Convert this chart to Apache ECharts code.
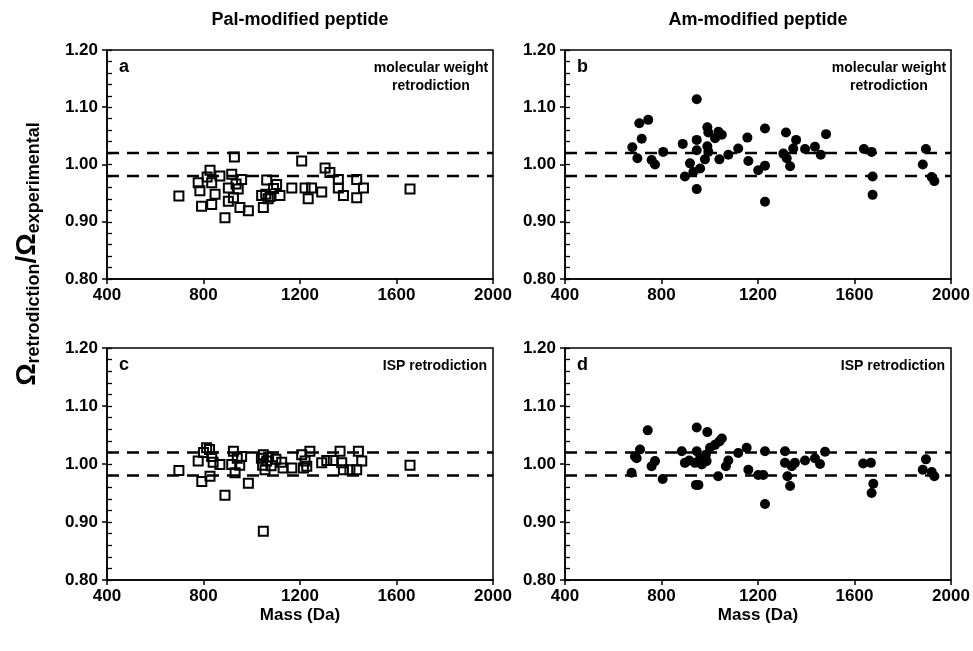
<!DOCTYPE html>
<html>
<head>
<meta charset="utf-8">
<script src="https://cdn.jsdelivr.net/npm/echarts@6/dist/echarts.min.js"></script>
<style>html,body{margin:0;padding:0;background:#fff}#c{width:973px;height:651px}</style>
</head>
<body>
<div id="c"></div>
<script>
// ---------- data ----------
const xTicks = [400, 800, 1200, 1600, 2000];
const yTicks = [0.80, 0.90, 1.00, 1.10, 1.20];
const thresholdHigh = 1.02;
const thresholdLow = 0.98;

// (a) Pal-modified, molecular weight retrodiction
const palMwMass  = [698,778,785,792,827,834,848,834,868,889,917,903,924,958,944,903,951,986,928,1062,1041,1048,1076,1103,1117,1166,1207,1221,1234,1248,1290,1304,1324,1359,1359,1380,1435,1463,1435,1656,815,1058,1068,935,1090];
const palMwRatio = [0.945,0.968,0.954,0.927,0.990,0.968,0.948,0.930,0.980,0.907,0.983,0.959,0.942,0.974,0.957,0.936,0.925,0.919,1.013,0.973,0.946,0.925,0.944,0.965,0.946,0.959,1.006,0.959,0.940,0.959,0.952,0.994,0.986,0.974,0.959,0.946,0.974,0.959,0.942,0.957,0.978,0.948,0.940,0.966,0.958];

// (b) Am-modified, molecular weight retrodiction
const amMwMass  = [679,700,708,745,718,759,773,807,888,897,918,932,946,946,946,960,946,990,994,990,994,980,1022,1036,1050,1040,1077,1118,1156,1160,1201,1229,1229,1229,1316,1305,1319,1333,1346,1358,1395,1436,1460,1482,1639,1671,1675,1675,1896,1883,1920,1931];
const amMwRatio = [1.030,1.011,1.072,1.078,1.045,1.008,1.000,1.022,1.036,0.979,1.002,0.987,1.114,1.043,1.025,0.993,0.957,1.065,1.056,1.032,1.022,1.009,1.046,1.057,1.052,1.009,1.017,1.028,1.047,1.006,0.990,1.063,0.998,0.935,1.056,1.019,1.011,0.997,1.028,1.043,1.027,1.031,1.017,1.053,1.027,1.022,0.979,0.947,1.027,1.000,0.978,0.971];

// (c) Pal-modified, ISP retrodiction
const palIspMass  = [698,778,793,800,813,825,834,840,827,868,889,924,917,931,940,958,950,986,1040,1048,1045,1055,1062,1070,1080,1048,1100,1124,1130,1166,1207,1214,1221,1241,1228,1290,1311,1338,1366,1373,1380,1407,1442,1456,1435,1656];
const palIspRatio = [0.989,1.005,0.970,1.020,1.028,1.025,1.013,1.003,0.979,0.999,0.946,1.022,0.999,0.985,1.010,1.013,0.998,0.967,1.010,1.016,0.998,0.990,1.005,1.012,0.997,0.884,1.008,1.003,0.993,0.993,1.016,0.993,1.005,1.022,0.996,1.002,1.006,1.006,1.022,1.002,0.990,0.990,1.022,1.005,0.990,0.998];

// (d) Am-modified, ISP retrodiction
const amIspMass  = [676,690,711,697,743,759,773,805,884,897,915,946,946,939,953,943,960,967,990,984,987,1001,1022,1040,1050,1035,1067,1077,1118,1153,1160,1201,1222,1229,1229,1312,1312,1322,1333,1340,1353,1395,1436,1457,1478,1636,1668,1678,1671,1896,1883,1920,1931];
const amIspRatio = [0.985,1.013,1.025,1.010,1.058,0.996,1.005,0.974,1.022,1.002,1.006,1.063,1.022,1.002,0.964,0.964,1.010,0.999,1.055,1.016,1.005,1.028,1.033,1.039,1.044,0.979,0.996,1.006,1.019,1.028,0.990,0.981,0.981,1.022,0.931,1.022,1.002,0.979,0.962,0.996,1.002,1.006,1.010,1.000,1.021,1.001,1.002,0.966,0.950,1.008,0.990,0.986,0.979];

const columnTitles = ['Pal-modified peptide', 'Am-modified peptide'];
const panelLetters = ['a', 'b', 'c', 'd'];
const panelNotes = ['molecular weight\nretrodiction', 'molecular weight\nretrodiction', 'ISP retrodiction', 'ISP retrodiction'];
const xTitle = 'Mass (Da)';

// ---------- layout ----------
const FONT = 'Liberation Sans, Arial, sans-serif';
const grids = [
  {left: 107, top: 50, width: 386, height: 229},
  {left: 565, top: 50, width: 386, height: 229},
  {left: 107, top: 348, width: 386, height: 232},
  {left: 565, top: 348, width: 386, height: 232}
];
const panels = [
  {mass: palMwMass, ratio: palMwRatio, open: true},
  {mass: amMwMass, ratio: amMwRatio, open: false},
  {mass: palIspMass, ratio: palIspRatio, open: true},
  {mass: amIspMass, ratio: amIspRatio, open: false}
];

const option = {
  animation: false,
  backgroundColor: '#fff',
  grid: grids.map(g => Object.assign({show: true, borderColor: '#000', borderWidth: 1.5, backgroundColor: 'transparent'}, g)),
  xAxis: [],
  yAxis: [],
  series: [],
  graphic: []
};

grids.forEach((g, i) => {
  option.xAxis.push({
    gridIndex: i, type: 'value', min: xTicks[0], max: xTicks[xTicks.length - 1],
    interval: xTicks[1] - xTicks[0],
    name: i >= 2 ? xTitle : '', nameLocation: 'middle', nameGap: 27,
    nameTextStyle: {fontFamily: FONT, fontWeight: 'bold', fontSize: 17, color: '#000'},
    axisLine: {show: true, lineStyle: {color: '#000', width: 1.5}},
    axisTick: {show: true, length: 5, lineStyle: {color: '#000', width: 1.5}},
    axisLabel: {fontFamily: FONT, fontWeight: 'bold', fontSize: 17, color: '#000', margin: 8,
      formatter: v => String(v)},
    splitLine: {show: false}
  });
  option.yAxis.push({
    gridIndex: i, type: 'value', min: yTicks[0], max: yTicks[yTicks.length - 1],
    interval: 0.1,
    axisLine: {show: true, lineStyle: {color: '#000', width: 1.5}},
    axisTick: {show: true, length: 5, lineStyle: {color: '#000', width: 1.5}},
    axisLabel: {fontFamily: FONT, fontWeight: 'bold', fontSize: 17, color: '#000', margin: 9,
      formatter: v => v.toFixed(2)},
    splitLine: {show: false}
  });
});
// inner minor ticks every 0.02
grids.forEach((g, i) => {
  option.yAxis.push({
    gridIndex: i, type: 'value', min: 0.8, max: 1.2, interval: 0.02, position: 'left',
    axisLine: {show: false},
    axisTick: {show: true, inside: true, length: 5, lineStyle: {color: '#000', width: 1.3}},
    axisLabel: {show: false},
    splitLine: {show: false}
  });
});

panels.forEach((p, i) => {
  const pts = p.mass.map((m, k) => [m, p.ratio[k]]);
  option.series.push({
    type: 'scatter', xAxisIndex: i, yAxisIndex: i, data: pts,
    symbol: p.open ? 'rect' : 'circle',
    symbolSize: p.open ? 9 : 10,
    itemStyle: p.open ? {color: 'rgba(0,0,0,0)', borderColor: '#000', borderWidth: 2, opacity: 1}
                      : {color: '#000', opacity: 1},
    z: 3
  });
  [thresholdHigh, thresholdLow].forEach(t => {
    option.series.push({
      type: 'line', xAxisIndex: i, yAxisIndex: i, data: [[xTicks[0], t], [xTicks[xTicks.length - 1], t]],
      symbol: 'none', lineStyle: {color: '#000', width: 2.5, type: [12, 8]}, z: 2, silent: true
    });
  });
  const g = grids[i];
  option.graphic.push({
    type: 'text', left: g.left + 12, top: g.top + 8,
    style: {text: panelLetters[i], font: 'bold 18px ' + FONT, fill: '#000'}
  });
  const twoLine = panelNotes[i].indexOf('\n') >= 0;
  option.graphic.push({
    type: 'text', x: twoLine ? g.left + g.width - 62 : g.left + g.width - 6, y: g.top + 9,
    style: {text: panelNotes[i], font: 'bold 14px ' + FONT, fill: '#000',
      align: twoLine ? 'center' : 'right', verticalAlign: 'top', lineHeight: 18}
  });
});

columnTitles.forEach((t, j) => {
  const g = grids[j];
  option.graphic.push({
    type: 'text', x: g.left + g.width / 2, y: 20,
    style: {text: t, font: 'bold 18px ' + FONT, fill: '#000', align: 'center', verticalAlign: 'middle'}
  });
});

option.graphic.push({
  type: 'text', x: 27, y: 254, rotation: Math.PI / 2,
  style: {
    text: '{o|Ω}{s|retrodiction}{o|/Ω}{s|experimental}',
    align: 'center', verticalAlign: 'middle', fill: '#000',
    rich: {
      o: {fontFamily: FONT, fontWeight: 'bold', fontSize: 28, lineHeight: 32, verticalAlign: 'middle'},
      s: {fontFamily: FONT, fontWeight: 'bold', fontSize: 18, lineHeight: 19, verticalAlign: 'bottom'}
    }
  }
});

const chart = echarts.init(document.getElementById('c'), null, {renderer: 'canvas'});
chart.setOption(option);
</script>
</body>
</html>
